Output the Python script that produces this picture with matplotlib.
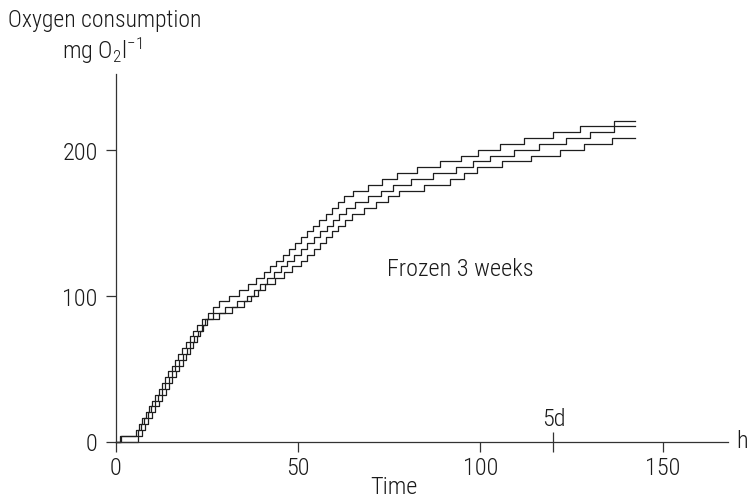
import matplotlib
matplotlib.use("Agg")
import matplotlib.pyplot as plt
from matplotlib import font_manager

# ---------------- data ----------------
# three replicate step curves: times (h) of each step and the level reached
a_time = [0, 1.0, 5.4, 6.3, 7.2, 8.1, 9.0, 9.9, 10.8, 11.7, 12.6, 13.5, 14.4, 15.3, 16.2,
          17.1, 18.1, 19.1, 20.2, 21.2, 22.3, 23.6, 25.2, 26.7, 28.3, 31.0, 33.7, 36.1,
          38.3, 40.5, 42.3, 44.0, 45.7, 47.4, 49.0, 50.7, 52.4, 54.1, 55.8, 57.5, 59.2,
          60.9, 62.6, 65.0, 69.0, 73.0, 77.0, 82.7, 88.9, 94.7, 99.4, 105.4, 111.8,
          120.0, 127.4, 136.5, 142.5]
a_value = [0, 4, 8, 12, 16, 20, 24, 28, 32, 36, 40, 44, 48, 52, 56,
           60, 64, 68, 72, 76, 80, 84, 88, 92, 96, 100, 104, 108,
           112, 116, 120, 124, 128, 132, 136, 140, 144, 148, 152, 156, 160,
           164, 168, 172, 176, 180, 184, 188, 192, 196, 200, 204, 208,
           212, 216, 220, 220]

b_time = [0, 1.5, 5.9, 6.9, 7.8, 8.8, 9.7, 10.6, 11.6, 12.5, 13.5, 14.5, 15.4, 16.3,
          17.3, 18.3, 19.4, 20.4, 21.4, 22.4, 23.5, 24.5, 26.7, 30.0, 33.3, 35.9, 37.8,
          39.6, 41.5, 43.3, 45.2, 47.0, 48.9, 50.7, 52.5, 54.3, 56.0, 57.8, 59.6, 61.3,
          63.1, 65.7, 69.1, 72.6, 76.0, 80.8, 86.9, 93.2, 98.0, 102.7, 109.3, 116.0,
          123.5, 130.0, 136.5, 142.5]
b_value = [0, 4, 8, 12, 16, 20, 24, 28, 32, 36, 40, 44, 48, 52,
           56, 60, 64, 68, 72, 76, 80, 84, 88, 92, 96, 100, 104,
           108, 112, 116, 120, 124, 128, 132, 136, 140, 144, 148, 152, 156,
           160, 164, 168, 172, 176, 180, 184, 188, 192, 196, 200, 204,
           208, 212, 216, 216]

c_time = [0, 6.1, 7.1, 8.0, 8.9, 9.9, 10.8, 11.7, 12.6, 13.6, 14.5, 15.5, 16.4, 17.3,
          18.3, 19.2, 20.2, 21.2, 22.1, 23.1, 24.0, 25.0, 28.3, 31.7, 35.0, 37.0, 39.0,
          41.0, 43.5, 46.0, 48.4, 50.8, 52.5, 54.2, 55.9, 57.6, 59.3, 61.0, 62.7, 64.8,
          68.0, 71.3, 74.5, 77.7, 84.6, 91.5, 95.5, 99.0, 106.0, 113.9, 121.9, 128.4,
          136.0, 142.5]
c_value = [0, 4, 8, 12, 16, 20, 24, 28, 32, 36, 40, 44, 48, 52,
           56, 60, 64, 68, 72, 76, 80, 84, 88, 92, 96, 100, 104,
           108, 112, 116, 120, 124, 128, 132, 136, 140, 144, 148, 152, 156,
           160, 164, 168, 172, 176, 180, 184, 188, 192, 196, 200, 204,
           208, 208]

x_ticks = [0, 50, 100, 150]
y_ticks = [0, 100, 200]
day5_hours = 120
title_line1 = "Oxygen consumption"
title_line2 = r"mg O$_2$l$^{-1}$"
x_label = "Time"
x_unit = "h"
annotation = "Frozen 3 weeks"

# ---------------- font choice ----------------
names = {(f.name, f.stretch) for f in font_manager.fontManager.ttflist}
fam = "DejaVu Sans"
for cand in ["Roboto Condensed", "Liberation Sans Narrow", "Open Sans Condensed"]:
    if any(n == cand for n, s in names):
        fam = cand
        break
plt.rcParams["font.family"] = [fam, "DejaVu Sans"]
plt.rcParams["font.weight"] = "light"
plt.rcParams["mathtext.fontset"] = "custom"
plt.rcParams["mathtext.rm"] = fam + ":light"
plt.rcParams["mathtext.it"] = fam + ":light"
plt.rcParams["mathtext.default"] = "rm"

FS = 17.5
W, H = 752, 502
fig = plt.figure(figsize=(W / 100, H / 100), dpi=100)
ax = fig.add_axes([0, 0, 1, 1])

# pixel calibration: x=0 -> 116 px, 3.645 px/h ; y=0 -> 442.5 px, 1.459 px/unit
x0p, sx = 116.0, 3.645
y0p, sy = 442.5, 1.459
ax.set_xlim(-x0p / sx, (W - x0p) / sx)
ax.set_ylim(-(H - y0p) / sy, y0p / sy)

line_kw = dict(where="post", color="#1e1e1e", lw=0.9)
ax.step(a_time, a_value, **line_kw)
ax.step(b_time, b_value, **line_kw)
ax.step(c_time, c_value, **line_kw)

for s in ["top", "right"]:
    ax.spines[s].set_visible(False)
ax.spines["left"].set_position(("data", 0))
ax.spines["bottom"].set_position(("data", 0))
ax.spines["left"].set_bounds(0, 252)
ax.spines["bottom"].set_bounds(0, 168)
for s in ["left", "bottom"]:
    ax.spines[s].set_color("#333333")
    ax.spines[s].set_linewidth(0.9)

ax.set_xticks(x_ticks)
ax.set_yticks(y_ticks)
ax.set_xticklabels([str(v) for v in x_ticks])
ax.set_yticklabels([str(v) for v in y_ticks])
ax.tick_params(axis="both", direction="out", length=7.2, width=0.9, color="#333333",
               labelsize=FS, labelcolor="#1a1a1a")
ax.tick_params(axis="x", pad=3)
ax.tick_params(axis="y", pad=6)

# 5 day marker
ax.vlines(day5_hours, -10.5 / sy, 10 / sy, color="#333333", lw=0.9)


def px(x, y):
    return x / W, 1 - y / H


tc = "#1a1a1a"
fig.text(*px(8, 21), title_line1, fontsize=17, ha="left", va="center", color=tc)
fig.text(*px(102, 51), title_line2, fontsize=FS, ha="center", va="center", color=tc)
fig.text(*px(554, 420), "5d", fontsize=FS, ha="center", va="center", color=tc)
fig.text(*px(736, 442), x_unit, fontsize=FS, ha="left", va="center", color=tc)
fig.text(*px(394, 488), x_label, fontsize=FS, ha="center", va="center", color=tc)
fig.text(*px(460, 270), annotation, fontsize=FS, ha="center", va="center", color=tc)

fig.savefig("out.png", dpi=100)
